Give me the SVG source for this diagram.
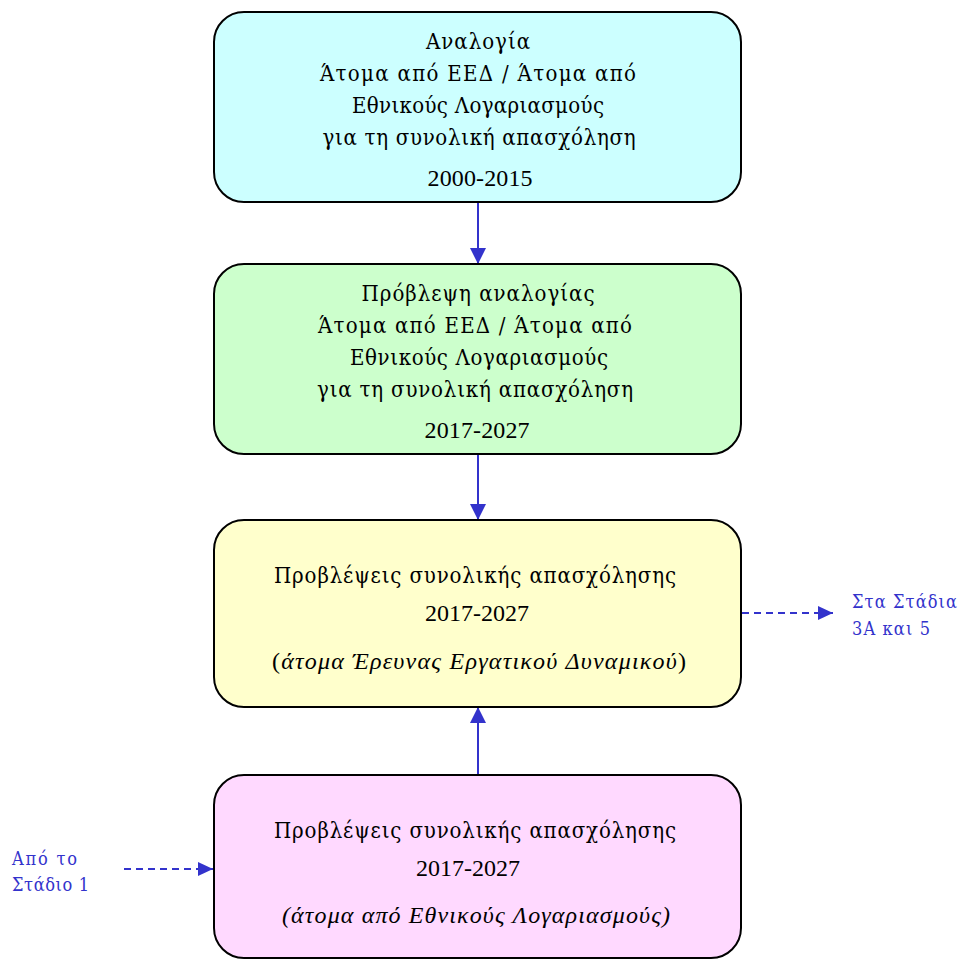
<svg xmlns="http://www.w3.org/2000/svg" width="959" height="960" viewBox="0 0 959 960">
<style>
.box{stroke:#000;stroke-width:2}
.g{font-family:"DejaVu Serif Condensed","DejaVu Serif",serif;font-size:22px;fill:#000;text-anchor:middle}
.n{font-family:"Liberation Serif","Times New Roman",serif;font-size:24px;fill:#000;text-anchor:middle}
.i{font-family:"Liberation Serif","Times New Roman",serif;font-size:24px;fill:#000;text-anchor:middle}
.it{font-style:italic}
.side{font-family:"DejaVu Serif Condensed","DejaVu Serif",serif;font-size:18px;fill:#3333CC}
.c{stroke:#3333CC;stroke-width:2;fill:none}
.d{stroke-dasharray:7,5}
</style>
<defs>
<marker id="a" viewBox="0 0 16 16" refX="16" refY="8" markerWidth="16" markerHeight="16" markerUnits="userSpaceOnUse" orient="auto">
<path d="M0,0 L16,8 L0,16 Z" fill="#3333CC"/>
</marker>
<marker id="b" viewBox="0 0 15 14" refX="15" refY="7" markerWidth="15" markerHeight="14" markerUnits="userSpaceOnUse" orient="auto">
<path d="M0,0 L15,7 L0,14 Z" fill="#3333CC"/>
</marker>
</defs>
<rect width="959" height="960" fill="#fff"/>
<g id="connectors">
<line class="c" x1="478" y1="202" x2="478" y2="264" marker-end="url(#a)"/>
<line class="c" x1="478" y1="454" x2="478" y2="520" marker-end="url(#a)"/>
<line class="c" x1="478" y1="775" x2="478" y2="707" marker-end="url(#a)"/>
<line class="c d" x1="742" y1="613" x2="833" y2="613" marker-end="url(#b)"/>
<line class="c d" x1="124" y1="869" x2="213" y2="869" marker-end="url(#b)"/>
</g>
<g id="n1">
<rect class="box" x="214" y="12" width="527" height="190" rx="30" fill="#CCFFFF"/>
<text class="g" x="478" y="49" textLength="104" lengthAdjust="spacing">Αναλογία</text>
<text class="g" x="478" y="81" textLength="316" lengthAdjust="spacing">Άτομα από ΕΕΔ  / Άτομα από</text>
<text class="g" x="478" y="113" textLength="252" lengthAdjust="spacing">Εθνικούς  Λογαριασμούς</text>
<text class="g" x="479" y="145" textLength="313" lengthAdjust="spacing">για τη συνολική απασχόληση</text>
<text class="n" x="480" y="186" textLength="105" lengthAdjust="spacing">2000-2015</text>
</g>
<g id="n2">
<rect class="box" x="214" y="264" width="527" height="190" rx="30" fill="#CCFFCC"/>
<text class="g" x="478" y="301" textLength="233" lengthAdjust="spacing">Πρόβλεψη  αναλογίας</text>
<text class="g" x="475" y="333" textLength="314" lengthAdjust="spacing">Άτομα από ΕΕΔ  / Άτομα από</text>
<text class="g" x="479" y="365" textLength="258" lengthAdjust="spacing">Εθνικούς  Λογαριασμούς</text>
<text class="g" x="475" y="397" textLength="316" lengthAdjust="spacing">για τη συνολική  απασχόληση</text>
<text class="n" x="477" y="438" textLength="105" lengthAdjust="spacing">2017-2027</text>
</g>
<g id="n3">
<rect class="box" x="214" y="520" width="527" height="187" rx="30" fill="#FFFFCC"/>
<text class="g" x="475" y="583" textLength="402" lengthAdjust="spacing">Προβλέψεις  συνολικής  απασχόλησης</text>
<text class="n" x="477" y="621" textLength="104" lengthAdjust="spacing">2017-2027</text>
<text class="i" x="479" y="669" textLength="414" lengthAdjust="spacing">(<tspan class="it">άτομα Έρευνας Εργατικού Δυναμικού</tspan>)</text>
</g>
<g id="n4">
<rect class="box" x="214" y="775" width="527" height="183" rx="30" fill="#FFD9FF"/>
<text class="g" x="475" y="838" textLength="402" lengthAdjust="spacing">Προβλέψεις  συνολικής  απασχόλησης</text>
<text class="n" x="468" y="876" textLength="104" lengthAdjust="spacing">2017-2027</text>
<text class="i it" x="476" y="923" textLength="388" lengthAdjust="spacing">(άτομα από Εθνικούς Λογαριασμούς)</text>
</g>
<g id="lbl-out">
<text class="side" x="852" y="608" textLength="105" lengthAdjust="spacing">Στα Στάδια</text>
<text class="side" x="852" y="635" textLength="78" lengthAdjust="spacing">3Α και 5</text>
</g>
<g id="lbl-in">
<text class="side" x="12" y="865" textLength="65" lengthAdjust="spacing">Από το</text>
<text class="side" x="12" y="891" textLength="77" lengthAdjust="spacing">Στάδιο 1</text>
</g>
</svg>
